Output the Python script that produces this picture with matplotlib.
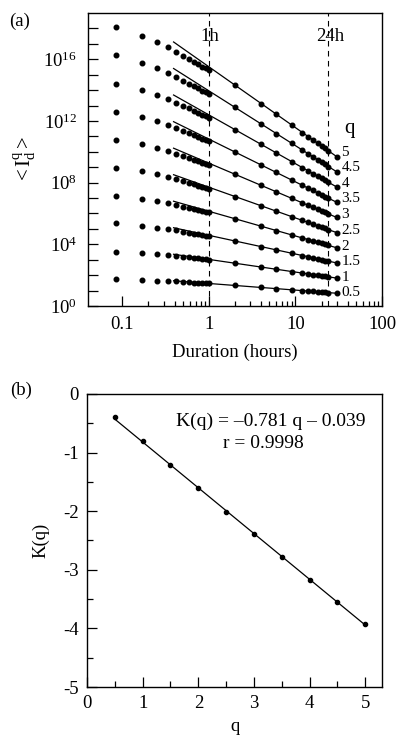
import numpy as np
import matplotlib
matplotlib.use('Agg')
import matplotlib.pyplot as plt
from matplotlib.ticker import FixedLocator, FuncFormatter, NullFormatter

plt.rcParams['font.family'] = ['Liberation Serif', 'DejaVu Serif']
plt.rcParams['mathtext.fontset'] = 'custom'
plt.rcParams['mathtext.rm'] = 'Liberation Serif'
plt.rcParams['mathtext.it'] = 'Liberation Serif:italic'
plt.rcParams['mathtext.bf'] = 'Liberation Serif:bold'
plt.rcParams['axes.unicode_minus'] = False

# ---------------- data ----------------
durations = [0.0833, 0.1667, 0.25, 0.3333, 0.4167, 0.5, 0.5833, 0.6667, 0.75,
             0.8333, 0.9167, 1.0, 2, 4, 6, 9, 12, 14, 16, 18, 20, 22, 24, 30]
q_values = [5, 4.5, 4, 3.5, 3, 2.5, 2, 1.5, 1, 0.5]

# log10 <I_d^q>
log_m_q50 = [18.08, 17.53, 17.13, 16.78, 16.48, 16.23, 16.03, 15.83, 15.68, 15.53, 15.41, 15.30,
             14.32, 13.13, 12.44, 11.75, 11.25, 10.99, 10.76, 10.56, 10.38, 10.22, 10.07, 9.68]
log_m_q45 = [16.25, 15.77, 15.41, 15.10, 14.83, 14.60, 14.42, 14.24, 14.11, 13.97, 13.86, 13.76,
             12.88, 11.81, 11.18, 10.56, 10.11, 9.87, 9.67, 9.49, 9.32, 9.18, 9.04, 8.70]
log_m_q40 = [14.42, 14.01, 13.69, 13.41, 13.17, 12.97, 12.81, 12.65, 12.53, 12.41, 12.31, 12.22,
             11.43, 10.48, 9.92, 9.37, 8.97, 8.76, 8.58, 8.42, 8.27, 8.14, 8.02, 7.71]
log_m_q35 = [12.60, 12.25, 11.97, 11.73, 11.52, 11.34, 11.20, 11.06, 10.96, 10.85, 10.76, 10.69,
             9.99, 9.16, 8.67, 8.18, 7.83, 7.65, 7.49, 7.34, 7.22, 7.10, 7.00, 6.73]
log_m_q30 = [10.78, 10.49, 10.25, 10.04, 9.86, 9.71, 9.59, 9.47, 9.38, 9.29, 9.22, 9.15,
             8.55, 7.83, 7.41, 6.99, 6.69, 6.53, 6.39, 6.27, 6.16, 6.07, 5.98, 5.74]
log_m_q25 = [8.97, 8.73, 8.53, 8.36, 8.21, 8.08, 7.98, 7.88, 7.81, 7.73, 7.67, 7.61,
             7.10, 6.50, 6.15, 5.80, 5.55, 5.42, 5.30, 5.20, 5.11, 5.03, 4.95, 4.76]
log_m_q20 = [7.15, 6.97, 6.81, 6.67, 6.55, 6.45, 6.37, 6.29, 6.23, 6.17, 6.12, 6.08,
             5.66, 5.18, 4.89, 4.61, 4.41, 4.30, 4.21, 4.13, 4.06, 3.99, 3.93, 3.77]
log_m_q15 = [5.35, 5.21, 5.09, 4.99, 4.90, 4.82, 4.76, 4.70, 4.66, 4.61, 4.57, 4.54,
             4.21, 3.85, 3.64, 3.42, 3.27, 3.19, 3.12, 3.06, 3.00, 2.95, 2.91, 2.79]
log_m_q10 = [3.53, 3.45, 3.37, 3.30, 3.24, 3.19, 3.15, 3.11, 3.08, 3.05, 3.03, 3.00,
             2.77, 2.52, 2.38, 2.23, 2.13, 2.08, 2.03, 1.99, 1.95, 1.92, 1.88, 1.81]
log_m_q05 = [1.75, 1.69, 1.65, 1.62, 1.59, 1.56, 1.54, 1.52, 1.51, 1.49, 1.48, 1.47,
             1.33, 1.20, 1.12, 1.05, 0.99, 0.96, 0.94, 0.92, 0.90, 0.88, 0.86, 0.82]
log_moments = [log_m_q50, log_m_q45, log_m_q40, log_m_q35, log_m_q30,
               log_m_q25, log_m_q20, log_m_q15, log_m_q10, log_m_q05]

# log10 of fitted line value at d = 1 h
fit_log_at_1h = [15.51, 13.95, 12.39, 10.82, 9.26, 7.70, 6.14, 4.58, 3.02, 1.46]

# panel (b)
k_q = [0.5, 1.0, 1.5, 2.0, 2.5, 3.0, 3.5, 4.0, 4.5, 5.0]
k_values = [-0.40, -0.81, -1.21, -1.61, -2.01, -2.39, -2.79, -3.17, -3.55, -3.92]
fit_slope = -0.781
fit_const = -0.039
r_value = 0.9998

# ---------------- figure ----------------
fig = plt.figure(figsize=(3.98, 7.40), dpi=100)
ax1 = fig.add_axes([0.2211, 0.5865, 0.9598 - 0.2211, 0.9824 - 0.5865])
ax2 = fig.add_axes([0.2186, 0.0716, 0.9598 - 0.2186, 0.4676 - 0.0716])

FS = 13.5
d = np.array(durations)
for q, lm, a in zip(q_values, log_moments, fit_log_at_1h):
    ax1.plot(d, 10 ** np.array(lm), 'o', color='black', ms=3.3, mec='black', zorder=3)
    k = fit_slope * q + fit_const
    xf = np.array([0.39, 30.0])
    ax1.plot(xf, 10 ** a * xf ** k, color='black', lw=0.9, zorder=2)
    ax1.text(34.0, 10 ** (lm[-1] + 0.06 * q), f'{q:g}', fontsize=11, ha='left', va='center')
ax1.text(42, 10 ** 11.5, 'q', fontsize=15, ha='center', va='center')

for xv, lab, xt in [(1.0, '1h', 1.02), (24.0, '24h', 25.5)]:
    ax1.axvline(xv, color='black', lw=0.8, ls=(0, (5, 4)), zorder=1)
    ax1.text(xt, 10 ** 17.45, lab, fontsize=FS, ha='center', va='center')

ax1.set_xscale('log')
ax1.set_yscale('log')
ax1.set_xlim(0.04, 100)
ax1.set_ylim(1, 1e19)
ax1.xaxis.set_major_locator(FixedLocator([0.1, 1, 10, 100]))
ax1.xaxis.set_major_formatter(FuncFormatter(lambda v, p: f'{v:g}'))
minors = [m * 10.0 ** e for e in (-1, 0, 1) for m in range(2, 10)]
ax1.xaxis.set_minor_locator(FixedLocator(minors))
ax1.xaxis.set_minor_formatter(NullFormatter())
ax1.yaxis.set_major_locator(FixedLocator([10.0 ** e for e in range(0, 19)]))
ax1.yaxis.set_major_formatter(FuncFormatter(
    lambda v, p: (r'$10^{%d}$' % round(np.log10(v))) if round(np.log10(v)) % 4 == 0 else ''))
ax1.yaxis.set_minor_locator(FixedLocator([]))
ax1.tick_params(axis='both', which='both', direction='in', top=False, right=False,
                labelsize=FS, width=0.9)
ax1.tick_params(axis='y', which='major', length=7, pad=8)
ax1.tick_params(axis='x', which='major', length=7, pad=7)
ax1.tick_params(axis='x', which='minor', length=3.6)
ax1.set_xlabel('Duration (hours)', fontsize=FS, labelpad=8)
ax1.set_ylabel(r'$<\mathrm{I}_\mathrm{d}^\mathrm{q}>$', fontsize=15, labelpad=4)
for s in ax1.spines.values():
    s.set_linewidth(1.0)

# panel (b)
ax2.plot(k_q, k_values, 'o', color='black', ms=3.0, zorder=3)
qf = np.array([k_q[0], k_q[-1]])
ax2.plot(qf, fit_slope * qf + fit_const, color='black', lw=0.9, zorder=2)
ax2.text(3.30, -0.46, f'K(q) = \u2013{abs(fit_slope):.3f} q \u2013 {abs(fit_const):.3f}',
         fontsize=14, ha='center', va='center')
ax2.text(3.16, -0.84, f'r = {r_value:.4f}', fontsize=14, ha='center', va='center')
ax2.set_xlim(0, 5.3)
ax2.set_ylim(-5, 0)
ax2.xaxis.set_major_locator(FixedLocator([0, 1, 2, 3, 4, 5]))
ax2.xaxis.set_minor_locator(FixedLocator([0.5, 1.5, 2.5, 3.5, 4.5]))
ax2.yaxis.set_major_locator(FixedLocator([-5, -4, -3, -2, -1, 0]))
ax2.yaxis.set_minor_locator(FixedLocator([-4.5, -3.5, -2.5, -1.5, -0.5]))
ax2.tick_params(axis='both', which='both', direction='in', top=False, right=False,
                labelsize=FS, width=0.9)
ax2.tick_params(axis='both', which='major', length=7, pad=6)
ax2.tick_params(axis='both', which='minor', length=4)
ax2.set_xlabel('q', fontsize=FS, labelpad=4)
ax2.set_ylabel('K(q)', fontsize=FS, labelpad=10)
for s in ax2.spines.values():
    s.set_linewidth(1.0)

fig.text(0.048, 0.971, '(a)', fontsize=FS, ha='center', va='center')
fig.text(0.053, 0.473, '(b)', fontsize=FS, ha='center', va='center')

fig.savefig('out.png', dpi=100)
